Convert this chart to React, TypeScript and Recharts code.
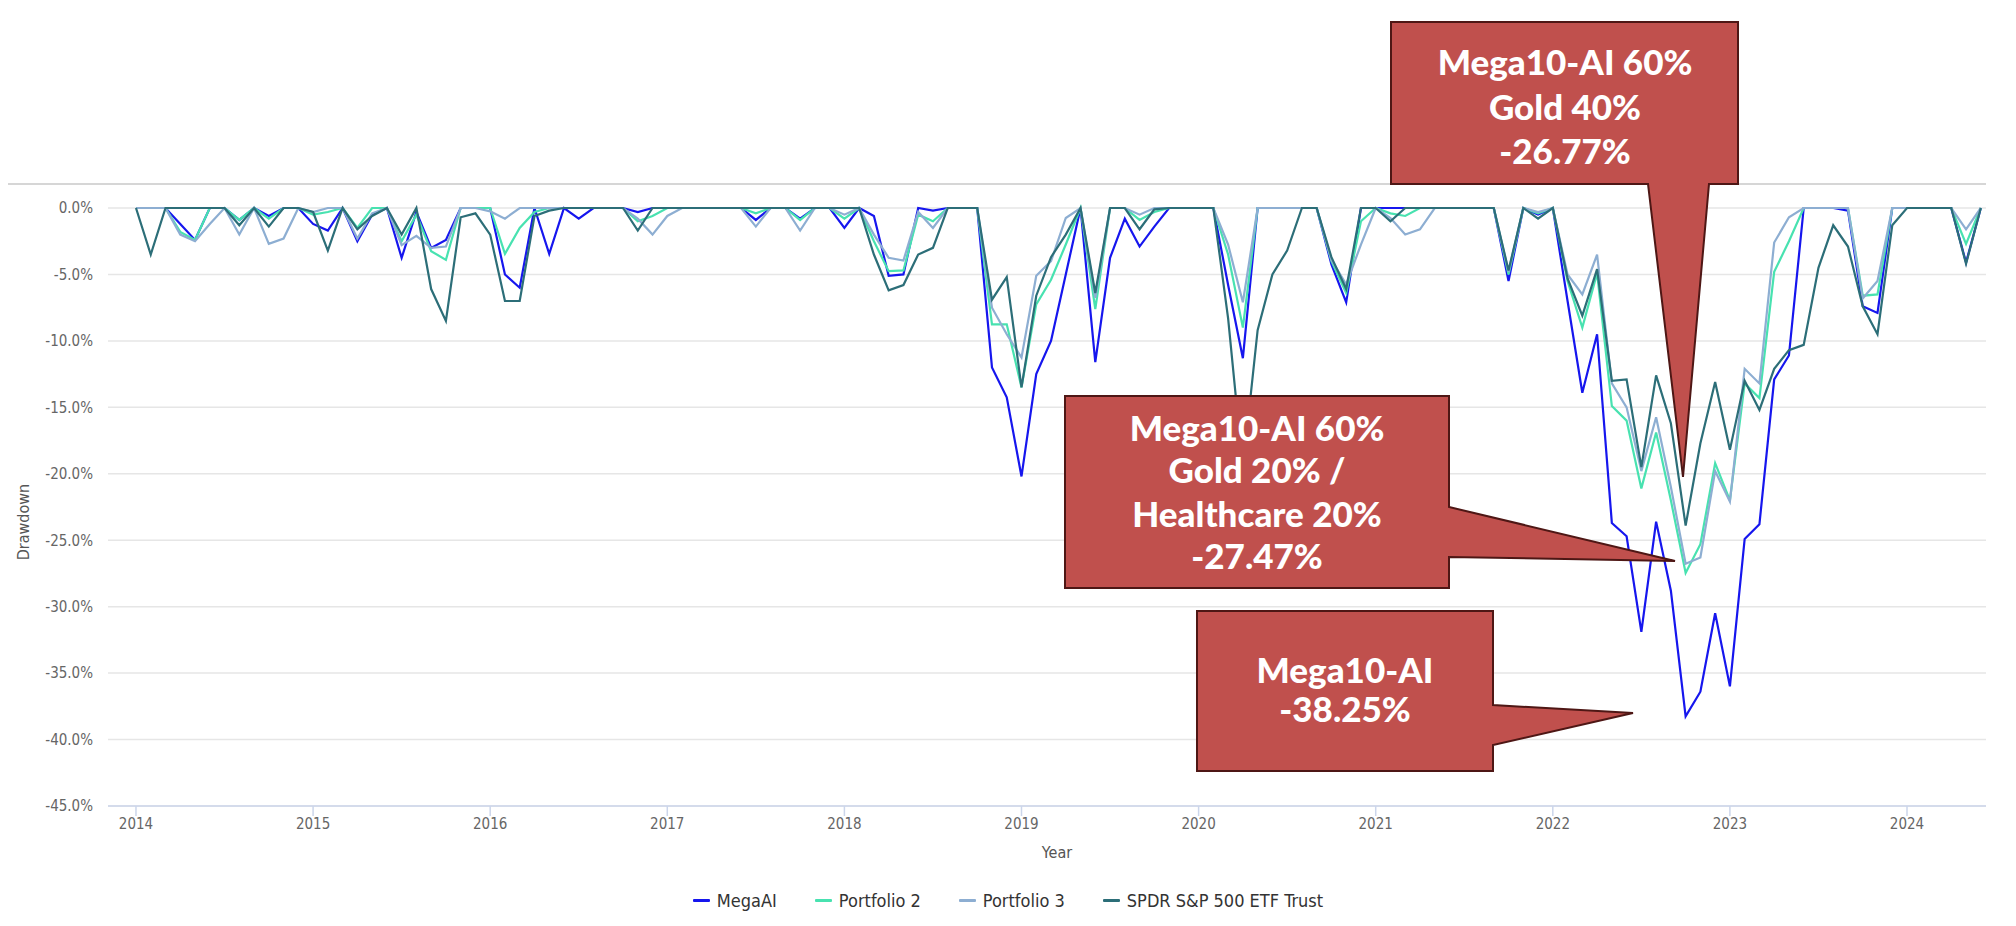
import React from 'react';
import { LineChart, Line, XAxis, YAxis, CartesianGrid } from 'recharts';

const START_YEAR = 2014;
const yearTicks = [2014, 2015, 2016, 2017, 2018, 2019, 2020, 2021, 2022, 2023, 2024];
const yTicks = [0, -5, -10, -15, -20, -25, -30, -35, -40, -45];
const seriesNames = ['MegaAI', 'Portfolio 2', 'Portfolio 3', 'SPDR S&P 500 ETF Trust'];
const seriesColors = ['#1616ee', '#48e2b0', '#8daed2', '#2c6e78'];

// monthly drawdown (%), Dec 2013 .. May 2024
const megaAI = [
  0, 0, 0, -1.2, -2.4, 0, 0, -0.9, 0, -0.6, 0, 0,
  -1.2, -1.7, 0, -2.5, -0.5, 0, -3.75, -0.3, -3.0, -2.4, 0, 0,
  0, -5.0, -6.0, 0, -3.45, 0, -0.8, 0, 0, 0, -0.3, 0,
  0, 0, 0, 0, 0, 0, -0.9, 0, 0, -0.8, 0, 0,
  -1.5, 0, -0.6, -5.1, -5.0, 0, -0.2, 0, 0, 0, -12.0, -14.25,
  -20.2, -12.5, -10.0, -5.0, 0, -11.6, -3.75, -0.8, -2.9, -1.4, 0, 0,
  0, 0, -5.8, -11.3, 0, 0, 0, 0, 0, -4.25, -7.1, 0,
  0, 0, 0, 0, 0, 0, 0, 0, 0, -5.5, 0, -0.5,
  0, -7.0, -13.9, -9.5, -23.7, -24.7, -31.9, -23.6, -28.8, -38.25, -36.4, -30.5,
  -36.0, -24.9, -23.8, -12.9, -11.1, 0, 0, 0, -0.2, -7.4, -7.9, 0,
  0, 0, 0, 0, -4.1, 0,
];
const portfolio2 = [
  0, 0, 0, -1.8, -2.4, 0, 0, -0.9, 0, -0.8, 0, 0,
  -0.5, -0.3, 0, -1.5, 0, 0, -2.5, -0.5, -3.25, -3.9, 0, 0,
  0, -3.45, -1.5, -0.3, 0, 0, 0, 0, 0, 0, -1.0, -0.6,
  0, 0, 0, 0, 0, 0, -0.4, 0, 0, -0.9, 0, 0,
  -0.8, 0, -2.5, -4.75, -4.7, -0.5, -1.0, 0, 0, 0, -8.75, -8.75,
  -13.5, -7.25, -5.4, -2.75, 0, -7.6, 0, 0, -0.9, -0.3, 0, 0,
  0, 0, -3.5, -9.0, 0, 0, 0, 0, 0, -4.0, -6.4, -1.0,
  0, -0.4, -0.6, 0, 0, 0, 0, 0, 0, -5.0, 0, -0.4,
  0, -5.5, -9.0, -4.9, -14.9, -16.0, -21.1, -16.9, -22.0, -27.47, -25.3, -19.2,
  -22.0, -13.2, -14.3, -4.8, -2.5, 0, 0, 0, 0, -6.6, -6.5, 0,
  0, 0, 0, 0, -2.7, 0,
];
const portfolio3 = [
  0, 0, 0, -2.0, -2.5, -1.2, 0, -2.0, 0, -2.7, -2.3, 0,
  -0.3, 0, 0, -2.3, -0.4, 0, -2.8, -2.1, -3.0, -2.9, 0, 0,
  -0.25, -0.8, 0, 0, 0, 0, 0, 0, 0, 0, -0.8, -2.0,
  -0.6, 0, 0, 0, 0, 0, -1.4, 0, 0, -1.7, 0, 0,
  -0.5, 0, -2.0, -3.75, -3.95, -0.3, -1.5, 0, 0, 0, -7.5, -9.5,
  -11.25, -5.1, -4.0, -0.75, 0, -6.75, 0, 0, -0.5, 0, 0, 0,
  0, 0, -2.75, -7.1, 0, 0, 0, 0, 0, -3.9, -5.75, -2.75,
  0, -0.75, -2.0, -1.6, 0, 0, 0, 0, 0, -4.8, 0, -0.3,
  0, -5.0, -6.5, -3.5, -13.2, -15.0, -19.8, -15.75, -21.0, -26.77, -26.3, -19.8,
  -22.1, -12.1, -13.2, -2.6, -0.7, 0, 0, 0, 0, -6.8, -5.5, 0,
  0, 0, 0, 0, -1.6, 0,
];
const spdr = [
  0, -3.5, 0, 0, 0, 0, 0, -1.3, 0, -1.4, 0, 0,
  -0.3, -3.2, 0, -1.6, -0.6, 0, -2.0, 0, -6.1, -8.5, -0.7, -0.4,
  -2.0, -7.0, -7.0, -0.6, -0.2, 0, 0, 0, 0, 0, -1.7, 0,
  0, 0, 0, 0, 0, 0, 0, 0, 0, 0, 0, 0,
  0, 0, -3.5, -6.2, -5.8, -3.5, -3.0, 0, 0, 0, -6.9, -5.2,
  -13.5, -6.6, -3.7, -2.0, 0, -6.4, 0, 0, -1.6, -0.1, 0, 0,
  0, 0, -8.3, -19.6, -9.2, -5.0, -3.2, 0, 0, -3.7, -6.1, 0,
  0, -1.0, 0, 0, 0, 0, 0, 0, 0, -4.7, 0, -0.8,
  0, -5.3, -8.1, -4.6, -13.0, -12.9, -19.5, -12.6, -16.2, -23.9, -17.7, -13.1,
  -18.2, -13.0, -15.2, -12.1, -10.7, -10.3, -4.5, -1.3, -2.9, -7.4, -9.5, -1.3,
  0, 0, 0, 0, -4.2, 0,
];

const data = megaAI.map((v, k) => ({
  t: START_YEAR + k / 12,
  megaAI: v,
  p2: portfolio2[k],
  p3: portfolio3[k],
  spdr: spdr[k],
}));
const seriesKeys = ['megaAI', 'p2', 'p3', 'spdr'];

const NARROW = '"Liberation Sans Narrow", "DejaVu Sans Condensed", Roboto, sans-serif';
const CALLOUT_FONT = 'Lato, "Open Sans", sans-serif';
const BOX_FILL = '#c0504d';
const BOX_STROKE = '#4e1715';

function Callouts() {
  const textStyle = {
    fill: '#ffffff',
    fontFamily: CALLOUT_FONT,
    fontWeight: 900,
    fontSize: 35,
  } as React.CSSProperties;
  return (
    <svg
      width={2016}
      height={926}
      style={{ position: 'absolute', left: -8, top: -8, pointerEvents: 'none' }}
    >
      <line x1={0} x2={1986} y1={184} y2={184} stroke="#d6d6d6" strokeWidth={2} />
      <text
        transform="translate(23 522) rotate(-90)"
        textAnchor="middle"
        dominantBaseline="central"
        style={{ fill: '#555', fontFamily: NARROW, fontSize: 16 }}
      >
        Drawdown
      </text>
      <text
        x={1057}
        y={852}
        textAnchor="middle"
        dominantBaseline="central"
        style={{ fill: '#555', fontFamily: NARROW, fontSize: 16 }}
      >
        Year
      </text>

      <path
        d="M1391 22 H1738 V184 H1709 L1683 477 L1648 184 H1391 Z"
        fill={BOX_FILL}
        stroke={BOX_STROKE}
        strokeWidth={2}
        strokeLinejoin="miter"
      />
      <text x={1565} y={61} textAnchor="middle" dominantBaseline="central" style={textStyle}>Mega10-AI 60%</text>
      <text x={1565} y={106} textAnchor="middle" dominantBaseline="central" style={textStyle}>Gold 40%</text>
      <text x={1565} y={150} textAnchor="middle" dominantBaseline="central" style={textStyle}>-26.77%</text>

      <path
        d="M1065 396 H1449 V507 L1675 561 L1449 557 V588 H1065 Z"
        fill={BOX_FILL}
        stroke={BOX_STROKE}
        strokeWidth={2}
      />
      <text x={1257} y={427} textAnchor="middle" dominantBaseline="central" style={textStyle}>Mega10-AI 60%</text>
      <text x={1257} y={469} textAnchor="middle" dominantBaseline="central" style={textStyle}>Gold 20% /</text>
      <text x={1257} y={513} textAnchor="middle" dominantBaseline="central" style={textStyle}>Healthcare 20%</text>
      <text x={1257} y={555} textAnchor="middle" dominantBaseline="central" style={textStyle}>-27.47%</text>

      <path
        d="M1197 611 H1493 V705 L1633 713 L1493 745 V771 H1197 Z"
        fill={BOX_FILL}
        stroke={BOX_STROKE}
        strokeWidth={2}
      />
      <text x={1345} y={669} textAnchor="middle" dominantBaseline="central" style={textStyle}>Mega10-AI</text>
      <text x={1345} y={708} textAnchor="middle" dominantBaseline="central" style={textStyle}>-38.25%</text>
    </svg>
  );
}

function LegendRow() {
  return (
    <div
      style={{
        position: 'absolute',
        left: -8,
        top: 880,
        width: 2016,
        height: 24,
        display: 'flex',
        justifyContent: 'center',
        alignItems: 'center',
        gap: 38,
        fontFamily: NARROW,
        fontSize: 18,
        color: '#333',
      }}
    >
      {seriesNames.map((name, i) => (
        <div key={name} style={{ display: 'flex', alignItems: 'center' }}>
          <div style={{ width: 17, height: 3, background: seriesColors[i], borderRadius: 1, marginRight: 7 }} />
          <span>{name}</span>
        </div>
      ))}
    </div>
  );
}

export default function App() {
  return (
    <div style={{ position: 'relative', width: 2000, height: 910 }}>
      <LineChart
        width={2000}
        height={910}
        data={data}
        margin={{ top: 200, right: 22, bottom: 52, left: 0 }}
      >
        <CartesianGrid vertical={false} stroke="#e6e6e6" strokeWidth={1.5} />
        <XAxis
          dataKey="t"
          type="number"
          domain={[2013.842, 2024.446]}
          allowDataOverflow
          ticks={yearTicks}
          tickFormatter={(v: number) => String(Math.round(v))}
          height={60}
          tickSize={10}
          tickMargin={2}
          axisLine={{ stroke: '#ccd6eb', strokeWidth: 1.5 }}
          tickLine={{ stroke: '#ccd6eb', strokeWidth: 1.5 }}
          tick={{ fill: '#666', fontSize: 15, fontFamily: NARROW }}
        />
        <YAxis
          type="number"
          domain={[-45, 0]}
          ticks={yTicks}
          tickFormatter={(v: number) => v.toFixed(1) + '%'}
          width={100}
          axisLine={false}
          tickLine={false}
          tickSize={0}
          tickMargin={15}
          tick={{ fill: '#666', fontSize: 15, fontFamily: NARROW }}
        />
        {seriesKeys.map((key, i) => (
          <Line
            key={key}
            dataKey={key}
            name={seriesNames[i]}
            type="linear"
            stroke={seriesColors[i]}
            strokeWidth={2.2}
            dot={false}
            isAnimationActive={false}
          />
        ))}
      </LineChart>
      <Callouts />
      <LegendRow />
    </div>
  );
}
